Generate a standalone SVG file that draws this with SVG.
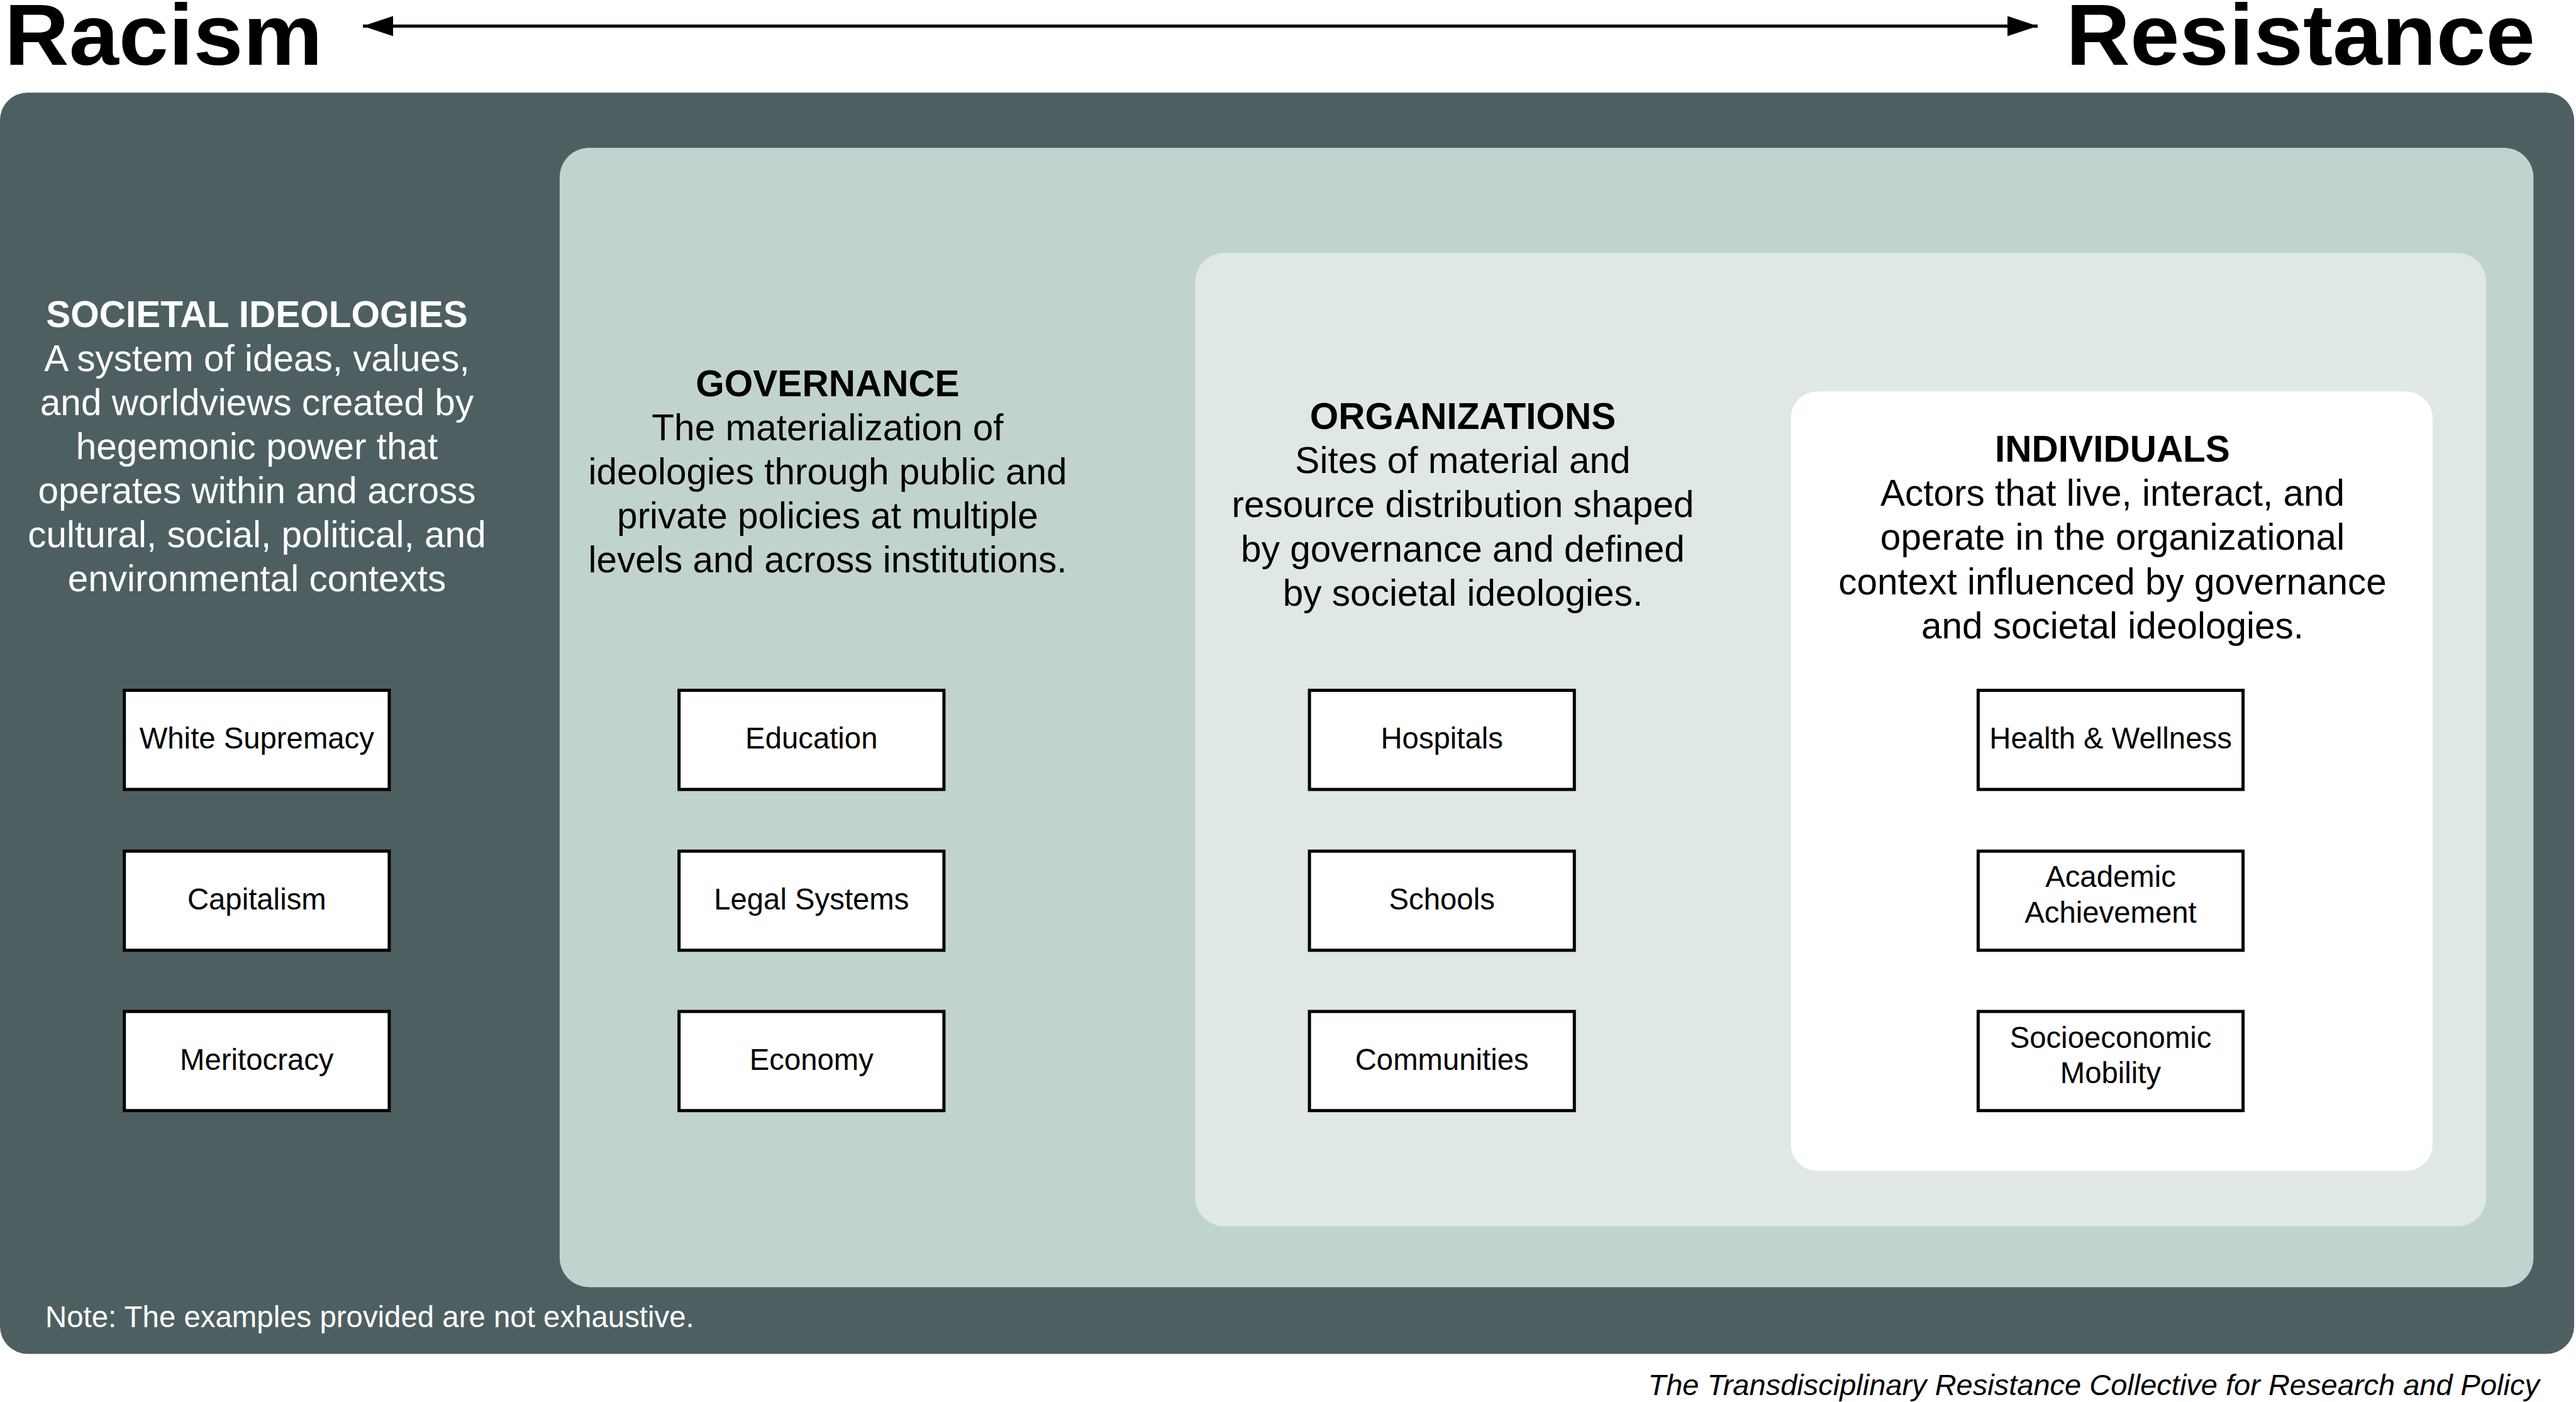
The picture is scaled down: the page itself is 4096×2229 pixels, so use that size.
<svg xmlns="http://www.w3.org/2000/svg" width="4096" height="2229" viewBox="0 0 4096 2229">
<style>
text{font-family:"Liberation Sans",Arial,sans-serif;}
.title{font-size:137px;font-weight:bold;fill:#000;}
.hd{font-size:58.5px;font-weight:bold;text-anchor:middle;}
.bd{font-size:58.5px;text-anchor:middle;}
.w{fill:#fff;}
.k{fill:#000;}
.box rect{fill:#fff;stroke:#000;stroke-width:5;}
.box text{font-size:47.3px;text-anchor:middle;fill:#000;}
.note{font-size:47.4px;fill:#fff;}
.credit{font-size:47px;font-style:italic;text-anchor:end;fill:#000;}
</style>
<defs>
<marker id="ah" markerUnits="userSpaceOnUse" markerWidth="50" markerHeight="34" viewBox="0 0 50 34" refX="48" refY="16" orient="auto-start-reverse">
<path d="M0,0 L48,16 L0,32 z" fill="#000"/>
</marker>
</defs>
<rect width="4096" height="2229" fill="#fff"/>
<text class="title" x="7" y="103" textLength="506" lengthAdjust="spacingAndGlyphs">Racism</text>
<text class="title" x="3285" y="103" textLength="746" lengthAdjust="spacingAndGlyphs">Resistance</text>
<g id="connectors">
<line x1="577" y1="41.5" x2="3240" y2="41.5" stroke="#000" stroke-width="5" marker-start="url(#ah)" marker-end="url(#ah)"/>
</g>
<g id="societal-ideologies">
<rect x="0" y="147.2" width="4093" height="2005.3" rx="44" fill="#4e5f62"/>
<text class="hd w" x="408.5" y="520">SOCIETAL IDEOLOGIES</text>
<text class="bd w" x="408.5" y="590">A system of ideas, values,</text>
<text class="bd w" x="408.5" y="660">and worldviews created by</text>
<text class="bd w" x="408.5" y="730">hegemonic power that</text>
<text class="bd w" x="408.5" y="800">operates within and across</text>
<text class="bd w" x="408.5" y="870">cultural, social, political, and</text>
<text class="bd w" x="408.5" y="940">environmental contexts</text>
</g>
<g id="governance">
<rect x="889.9" y="234.9" width="3138.5" height="1811.5" rx="47" fill="#c1d3cf"/>
<text class="hd k" x="1316" y="630">GOVERNANCE</text>
<text class="bd k" x="1316" y="700">The materialization of</text>
<text class="bd k" x="1316" y="770">ideologies through public and</text>
<text class="bd k" x="1316" y="840">private policies at multiple</text>
<text class="bd k" x="1316" y="910">levels and across institutions.</text>
</g>
<g id="organizations">
<rect x="1900.7" y="401.9" width="2052.4" height="1547.9" rx="46" fill="#dfe8e6"/>
<text class="hd k" x="2326" y="681.6">ORGANIZATIONS</text>
<text class="bd k" x="2326" y="752">Sites of material and</text>
<text class="bd k" x="2326" y="822.3">resource distribution shaped</text>
<text class="bd k" x="2326" y="892.6">by governance and defined</text>
<text class="bd k" x="2326" y="963">by societal ideologies.</text>
</g>
<g id="individuals">
<rect x="2847.6" y="622.3" width="1020.3" height="1239.3" rx="42" fill="#fff"/>
<text class="hd k" x="3359" y="733.6">INDIVIDUALS</text>
<text class="bd k" x="3359" y="804">Actors that live, interact, and</text>
<text class="bd k" x="3359" y="874.3">operate in the organizational</text>
<text class="bd k" x="3359" y="944.7">context influenced by governance</text>
<text class="bd k" x="3359" y="1015">and societal ideologies.</text>
</g>
<g id="white-supremacy" class="box"><rect x="197.7" y="1097.5" width="421.2" height="157.6"/><text x="408.3" y="1190">White Supremacy</text></g>
<g id="capitalism" class="box"><rect x="197.7" y="1353.2" width="421.2" height="157.6"/><text x="408.3" y="1445.7">Capitalism</text></g>
<g id="meritocracy" class="box"><rect x="197.7" y="1608.1" width="421.2" height="157.6"/><text x="408.3" y="1700.6">Meritocracy</text></g>
<g id="education" class="box"><rect x="1079.7" y="1097.5" width="421.2" height="157.6"/><text x="1290.3" y="1190">Education</text></g>
<g id="legal-systems" class="box"><rect x="1079.7" y="1353.2" width="421.2" height="157.6"/><text x="1290.3" y="1445.7">Legal Systems</text></g>
<g id="economy" class="box"><rect x="1079.7" y="1608.1" width="421.2" height="157.6"/><text x="1290.3" y="1700.6">Economy</text></g>
<g id="hospitals" class="box"><rect x="2082.1" y="1097.5" width="421.2" height="157.6"/><text x="2292.7" y="1190">Hospitals</text></g>
<g id="schools" class="box"><rect x="2082.1" y="1353.2" width="421.2" height="157.6"/><text x="2292.7" y="1445.7">Schools</text></g>
<g id="communities" class="box"><rect x="2082.1" y="1608.1" width="421.2" height="157.6"/><text x="2292.7" y="1700.6">Communities</text></g>
<g id="health-wellness" class="box"><rect x="3145.4" y="1097.5" width="421.2" height="157.6"/><text x="3356" y="1190">Health &amp; Wellness</text></g>
<g id="academic-achievement" class="box"><rect x="3145.4" y="1353.2" width="421.2" height="157.6"/><text x="3356" y="1410">Academic</text><text x="3356" y="1467">Achievement</text></g>
<g id="socioeconomic-mobility" class="box"><rect x="3145.4" y="1608.1" width="421.2" height="157.6"/><text x="3356" y="1666">Socioeconomic</text><text x="3356" y="1722">Mobility</text></g>
<text class="note" x="72" y="2110">Note: The examples provided are not exhaustive.</text>
<text class="credit" x="4038" y="2218">The Transdisciplinary Resistance Collective for Research and Policy</text>
</svg>
